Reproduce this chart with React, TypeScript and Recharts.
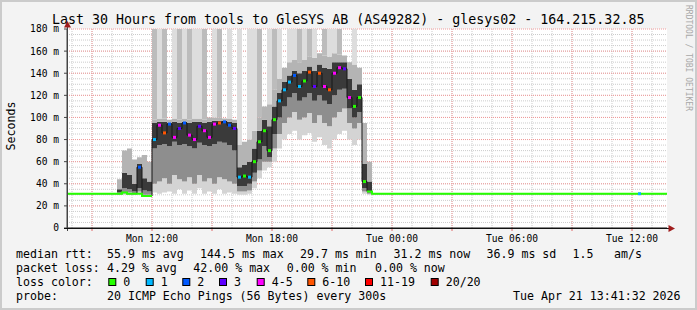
import React from 'react';
import { ComposedChart, Area, Line, XAxis, YAxis, CartesianGrid } from 'recharts';

const FONT = '"DejaVu Sans Mono", monospace';

// 15 minute slots, chart starts Mon 07:45 and covers 30 hours
const SLOT_HOURS = 0.25;
const SLOT_COUNT = 120;
const BASE_RTT = 31; // ms, quiet median outside the busy window
const WINDOW_START = 10; // first busy slot (Mon 10:15)

// busy window Mon 10:15 .. Mon 22:45, one value per slot
const medianRtt = [
  31, 32, 31, 31, 55, 29, 29,
  80, 93, 86, 94, 82, 90, 95, 84, 80, 92, 88, 82, 94, 95, 96, 93, 90,
  46, 47, 46, 60, 78, 88, 70, 98, 115, 125, 132, 138, 128, 133, 141, 128, 140, 128, 125, 140, 145, 144, 118, 110, 118, 42, 33,
];
// index into lossColors
const lossIdx = [
  0, 0, 0, 0, 2, 0, 0,
  1, 4, 5, 2, 4, 3, 2, 4, 4, 3, 4, 4, 4, 5, 2, 2, 3,
  1, 0, 1, 0, 0, 0, 0, 0, 1, 1, 1, 2, 1, 0, 5, 3, 5, 4, 5, 4, 4, 3, 4, 0, 0, 0, 0,
];
const smokeMin = [
  30, 30, 30, 30, 31, 28, 28,
  32, 31, 32, 33, 31, 35, 31, 34, 31, 36, 31, 33, 31, 35, 31, 32, 31,
  30, 30, 31, 36, 45, 52, 55, 60, 72, 80, 85, 88, 80, 84, 86, 78, 82, 75, 72, 80, 85, 88, 80, 75, 80, 31, 30,
];
const smokeLow = [
  31, 32, 32, 31, 33, 30, 30,
  40, 42, 45, 40, 48, 44, 42, 46, 40, 48, 42, 45, 40, 46, 44, 42, 40,
  33, 33, 34, 42, 52, 60, 60, 72, 85, 95, 100, 105, 98, 100, 104, 95, 102, 95, 92, 100, 105, 108, 95, 90, 95, 33, 31,
];
const smokeCoreLo = [
  32, 36, 35, 33, 36, 34, 33,
  72, 75, 76, 74, 78, 75, 76, 74, 72, 77, 75, 74, 76, 78, 77, 75, 70,
  38, 38, 40, 50, 62, 74, 64, 85, 100, 110, 118, 122, 115, 118, 122, 115, 120, 115, 112, 120, 125, 126, 108, 100, 105, 36, 32,
];
const smokeCoreHi = [
  35, 50, 48, 40, 58, 45, 42,
  95, 96, 96, 95, 96, 95, 96, 95, 96, 96, 95, 96, 97, 97, 97, 96, 95,
  55, 57, 60, 72, 88, 98, 92, 110, 122, 132, 138, 142, 140, 142, 146, 142, 148, 145, 144, 150, 150, 150, 135, 125, 130, 58, 42,
];
const smokeMax = [
  44, 70, 72, 62, 64, 66, 60,
  98, 99, 99, 98, 99, 98, 99, 98, 99, 99, 98, 100, 100, 100, 99, 99, 98,
  75, 78, 80, 88, 100, 110, 112, 125, 135, 145, 150, 152, 150, 152, 155, 154, 158, 156, 155, 158, 157, 156, 150, 148, 145, 95, 60,
];
// pings above the 180 ms ceiling: 0 none, 1 a few (light), 2 many (darker)
const offChart = [
  0, 0, 0, 0, 0, 0, 0,
  2, 1, 2, 0, 1, 2, 1, 2, 1, 1, 2, 0, 1, 2, 0, 1, 0,
  1, 0, 1, 1, 2, 0, 1, 2, 1, 0, 1, 1, 2, 1, 2, 1, 0, 2, 1, 1, 2, 0, 0, 1, 0, 0, 0,
];
// single loss blips in the quiet period
const quietLoss = [{ slot: 114, loss: 1 }];

const lossColors = ['#26ff00', '#00b8ff', '#0059ff', '#5e00ff', '#ff00ff', '#ff5500', '#ff0000', '#a10000'];
const lossLabels = ['0', '1', '2', '3', '4-5', '6-10', '11-19', '20/20'];
const lossLegendX = [108.3, 145.7, 182.3, 219, 256.7, 307.3, 365, 430.7];

const xTickHours = [1.25, 4.25, 7.25, 10.25, 13.25, 16.25, 19.25, 22.25, 25.25, 28.25];
const xTickLabels = ['', 'Mon 12:00', '', 'Mon 18:00', '', 'Tue 00:00', '', 'Tue 06:00', '', 'Tue 12:00'];
const yTicks = [0, 20, 40, 60, 80, 100, 120, 140, 160, 180];

const minorX = Array.from({ length: 30 }, (_, k) => 0.25 + k);
const minorY = Array.from({ length: 35 }, (_, k) => 5 * (k + 1));

const rows = Array.from({ length: SLOT_COUNT + 1 }, (_, slot) => {
  const w = slot - WINDOW_START;
  const inWin = w >= 0 && w < medianRtt.length;
  const med = inWin ? medianRtt[w] : BASE_RTT;
  const blip = quietLoss.find((q) => q.slot === slot);
  const loss = inWin ? lossIdx[w] : blip ? blip.loss : 0;
  const mn = inWin ? smokeMin[w] : BASE_RTT;
  const low = inWin ? smokeLow[w] : BASE_RTT;
  const cLo = inWin ? smokeCoreLo[w] : BASE_RTT;
  const cHi = inWin ? smokeCoreHi[w] : BASE_RTT;
  const mx = inWin ? smokeMax[w] : BASE_RTT;
  const off = inWin ? offChart[w] : 0;
  return {
    t: slot * SLOT_HOURS,
    med,
    loss,
    base: mn,
    b1: low - mn,
    b2: cLo - low,
    b3: cHi - cLo,
    b4: mx - cHi,
    b5: off === 1 ? 180 - mx : 0,
    b6: off === 2 ? 180 - mx : 0,
  };
});
const isFlat = (i: number) => i >= 0 && rows[i].med <= 33 && rows[i].loss === 0;
const data = rows.map((r, i) => ({
  ...r,
  flat: isFlat(i) ? r.med : isFlat(i - 1) ? rows[i - 1].med : null,
}));

const bands = [
  { key: 'b1', fill: '#d4d4d4' },
  { key: 'b2', fill: '#8e8e8e' },
  { key: 'b3', fill: '#3a3a3a' },
  { key: 'b4', fill: '#b4b4b4' },
  { key: 'b5', fill: '#dddddd' },
  { key: 'b6', fill: '#bcbcbc' },
];

const renderDot = (p: any) => {
  const i = p.index;
  if (isFlat(i) || i >= SLOT_COUNT) return <g key={`d${i}`} />;
  return (
    <rect key={`d${i}`} x={p.cx + 1} y={p.cy - 1.5} width={3} height={3} fill={lossColors[data[i].loss]} />
  );
};

const statRows = [
  { y: 257.5, items: [[16, 'median rtt:'], [107, '55.9 ms avg'], [200, '144.5 ms max'], [300, '29.7 ms min'], [393.5, '31.2 ms now'], [486.5, '36.9 ms sd'], [572.5, '1.5'], [614, 'am/s']] },
  { y: 271.8, items: [[16, 'packet loss:'], [107, '4.29 % avg'], [193.3, '42.00 % max'], [286.7, '0.00 % min'], [375, '0.00 % now']] },
  { y: 299.8, items: [[16, 'probe:'], [107, '20 ICMP Echo Pings (56 Bytes) every 300s'], [513, 'Tue Apr 21 13:41:32 2026']] },
];

export default function App() {
  return (
    <div style={{ position: 'absolute', left: 0, top: 0, width: 697, height: 310, background: '#f3f3f3' }}>
      <ComposedChart width={697} height={310} data={data} margin={{ top: 29, right: 30, bottom: 52, left: 7 }}>
        <CartesianGrid fill="#ffffff" stroke="#cccccc" strokeDasharray="1 1" horizontalValues={minorY} verticalValues={minorX} />
        <CartesianGrid stroke="#f29a9a" strokeDasharray="1 1" horizontalValues={yTicks.slice(1)} verticalValues={xTickHours} />
        <XAxis
          type="number"
          dataKey="t"
          domain={[0, 30]}
          ticks={xTickHours}
          interval={0}
          height={30}
          allowDataOverflow
          tickFormatter={(v: number) => xTickLabels[xTickHours.indexOf(v)] ?? ''}
          axisLine={{ stroke: '#111111' }}
          tickLine={{ stroke: '#e06a6a' }}
          tickSize={3}
          tickMargin={4}
          tick={{ fontSize: 9.6, fill: '#000', fontFamily: FONT }}
        />
        <YAxis
          type="number"
          domain={[0, 180]}
          ticks={yTicks}
          interval={0}
          width={60}
          allowDataOverflow
          tickFormatter={(v: number) => (v === 0 ? '0' : `${v} m`)}
          axisLine={{ stroke: '#444444' }}
          tickLine={{ stroke: '#444444' }}
          tickSize={3}
          tickMargin={5}
          tick={{ fontSize: 9.6, fill: '#000', fontFamily: FONT }}
        />
        <Area type="stepAfter" dataKey="base" stackId="s" stroke="none" fill="none" dot={false} activeDot={false} isAnimationActive={false} />
        {bands.map((b) => (
          <Area
            key={b.key}
            type="stepAfter"
            dataKey={b.key}
            stackId="s"
            stroke="none"
            fill={b.fill}
            fillOpacity={1}
            dot={false}
            activeDot={false}
            isAnimationActive={false}
          />
        ))}
        <Line type="stepAfter" dataKey="med" stroke="#161616" strokeWidth={1} dot={renderDot} activeDot={false} isAnimationActive={false} />
        <Line type="stepAfter" dataKey="flat" stroke="#26ff00" strokeWidth={2} dot={false} activeDot={false} connectNulls={false} isAnimationActive={false} />
      </ComposedChart>

      <svg width={697} height={310} style={{ position: 'absolute', left: 0, top: 0, pointerEvents: 'none' }} fontFamily={FONT}>
        <rect x={1} y={1} width={695} height={308} fill="none" stroke="#cbcbcb" strokeWidth={2} />
        <text x={52} y={23.5} fontSize={13.3} fill="#000">
          Last 30 Hours from tools to GleSYS AB (AS49282) - glesys02 - 164.215.32.85
        </text>
        <text x={686} y={5} fontSize={8} fill="#a8a8a8" transform="rotate(90 686 5)">
          RRDTOOL / TOBI OETIKER
        </text>
        <text x={14.5} y={126} fontSize={11.6} fill="#000" textAnchor="middle" transform="rotate(-90 14.5 126)">
          Seconds
        </text>
        <line x1={67.5} y1={24} x2={67.5} y2={231} stroke="#444444" />
        <line x1={64} y1={228.5} x2={670} y2={228.5} stroke="#111111" />
        <polygon points="67.5,21 64,27.5 71,27.5" fill="#a01c1c" />
        <polygon points="675,228.5 668.5,225 668.5,232" fill="#a01c1c" />

        {statRows.map((r) =>
          r.items.map(([x, s]) => (
            <text key={`${r.y}-${x}`} x={x as number} y={r.y} fontSize={11.6} fill="#000">
              {s}
            </text>
          ))
        )}
        <text x={16} y={285.8} fontSize={11.6} fill="#000">loss color:</text>
        {lossLabels.map((l, i) => (
          <g key={l}>
            <rect x={lossLegendX[i] + 0.5} y={278.5} width={7} height={7} fill={lossColors[i]} stroke="#000" />
            <text x={lossLegendX[i] + 15} y={285.8} fontSize={11.6} fill="#000">
              {l}
            </text>
          </g>
        ))}
      </svg>
    </div>
  );
}
